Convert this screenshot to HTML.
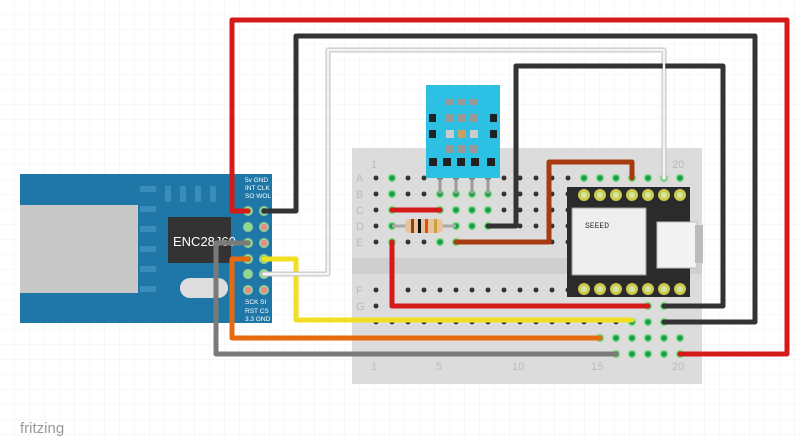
<!DOCTYPE html>
<html><head><style>
html,body{margin:0;padding:0;background:#fff;}
svg{display:block;}
</style></head><body>
<svg width="800" height="439" xmlns="http://www.w3.org/2000/svg" font-family="Liberation Sans, sans-serif">
<defs>
<pattern id="g" width="15" height="15" patternUnits="userSpaceOnUse"><path d="M15 0V15H0" fill="none" stroke="#f0f0f0" stroke-width="1"/></pattern>
<pattern id="h1" x="368" y="170" width="16" height="16" patternUnits="userSpaceOnUse"><circle cx="8" cy="8" r="2.5" fill="#333"/></pattern>
<pattern id="h2" x="368" y="282" width="16" height="16" patternUnits="userSpaceOnUse"><circle cx="8" cy="8" r="2.5" fill="#333"/></pattern>
<g id="gd"><circle r="3.5" fill="#1a9a4a" stroke="#8d8" stroke-width="1.5"/></g>
<g id="xpin"><circle r="6" fill="#cfc84a"/><circle r="3" fill="#cfe8a8"/></g>
</defs>
<rect width="800" height="439" fill="url(#g)"/>
<!-- breadboard -->
<rect x="352" y="148" width="350" height="236" fill="#dcdcdc"/>
<rect x="352" y="258" width="350" height="16" fill="#cfcfcf"/>
<rect x="368" y="170" width="320" height="80" fill="url(#h1)"/>
<rect x="368" y="282" width="320" height="80" fill="url(#h2)"/>
<g>
<use href="#gd" x="392" y="178"/><use href="#gd" x="584" y="178"/><use href="#gd" x="600" y="178"/><use href="#gd" x="616" y="178"/><use href="#gd" x="632" y="178"/><use href="#gd" x="648" y="178"/><use href="#gd" x="664" y="178"/><use href="#gd" x="680" y="178"/>
<use href="#gd" x="392" y="194"/><use href="#gd" x="440" y="194"/><use href="#gd" x="456" y="194"/><use href="#gd" x="472" y="194"/><use href="#gd" x="488" y="194"/>
<use href="#gd" x="392" y="210"/><use href="#gd" x="440" y="210"/><use href="#gd" x="456" y="210"/><use href="#gd" x="472" y="210"/><use href="#gd" x="488" y="210"/>
<use href="#gd" x="392" y="226"/><use href="#gd" x="456" y="226"/><use href="#gd" x="472" y="226"/><use href="#gd" x="488" y="226"/>
<use href="#gd" x="392" y="242"/><use href="#gd" x="440" y="242"/><use href="#gd" x="456" y="242"/>
<use href="#gd" x="648" y="306"/><use href="#gd" x="664" y="306"/>
<use href="#gd" x="632" y="322"/><use href="#gd" x="648" y="322"/><use href="#gd" x="664" y="322"/>
<use href="#gd" x="600" y="338"/><use href="#gd" x="616" y="338"/><use href="#gd" x="632" y="338"/><use href="#gd" x="648" y="338"/><use href="#gd" x="664" y="338"/><use href="#gd" x="680" y="338"/>
<use href="#gd" x="616" y="354"/><use href="#gd" x="632" y="354"/><use href="#gd" x="648" y="354"/><use href="#gd" x="664" y="354"/><use href="#gd" x="680" y="354"/>
</g>
<g fill="#bbb" font-size="11">
<text x="371" y="168">1</text><text x="672" y="168">20</text>
<text x="371" y="370">1</text><text x="436" y="370">5</text><text x="512" y="370">10</text><text x="591" y="370">15</text><text x="672" y="370">20</text>
<text x="356" y="182">A</text><text x="356" y="198">B</text><text x="356" y="214">C</text><text x="356" y="230">D</text><text x="356" y="246">E</text>
<text x="356" y="294">F</text><text x="356" y="310">G</text>
</g>
<!-- ENC board -->
<rect x="20" y="174" width="252" height="149" fill="#1f77a8"/>
<rect x="20" y="205" width="118" height="88" fill="#c8c8c8"/>
<g fill="#3a8cba"><rect x="140" y="186" width="16" height="6"/><rect x="140" y="206" width="16" height="6"/><rect x="140" y="226" width="16" height="6"/><rect x="140" y="246" width="16" height="6"/><rect x="140" y="266" width="16" height="6"/><rect x="140" y="286" width="16" height="6"/>
<rect x="165" y="186" width="6" height="16"/><rect x="180" y="186" width="6" height="16"/><rect x="195" y="186" width="6" height="16"/><rect x="210" y="186" width="6" height="16"/></g>
<rect x="168" y="217" width="63" height="46" fill="#333"/>
<text x="173" y="246" fill="#fff" font-size="13">ENC28J60</text>
<rect x="180" y="278" width="48" height="20" rx="10" fill="#ddd"/>
<g fill="#fff" font-size="6.5"><text x="245" y="182">5v GND</text><text x="245" y="190">INT CLK</text><text x="245" y="198">SO WOL</text>
<text x="245" y="304">SCK  SI</text><text x="245" y="313">RST  CS</text><text x="245" y="321">3.3  GND</text></g>
<g stroke="#9c9" stroke-width="2">
<circle cx="248" cy="211" r="4" fill="#7c4"/><circle cx="264" cy="211" r="4" fill="#1a5"/>
<circle cx="248" cy="227" r="4" fill="#8d8"/><circle cx="264" cy="227" r="4" fill="#e88"/>
<circle cx="248" cy="243" r="4" fill="#7c4"/><circle cx="264" cy="243" r="4" fill="#e88"/>
<circle cx="248" cy="259" r="4" fill="#7a3"/><circle cx="264" cy="259" r="4" fill="#7d2"/>
<circle cx="248" cy="274" r="4" fill="#8d8"/><circle cx="264" cy="274" r="4" fill="#8d8"/>
<circle cx="248" cy="290" r="4" fill="#e88"/><circle cx="264" cy="290" r="4" fill="#e88"/>
</g>
<!-- DHT -->
<g stroke="#999" stroke-width="3"><line x1="440" y1="170" x2="440" y2="194"/><line x1="456" y1="170" x2="456" y2="194"/><line x1="472" y1="170" x2="472" y2="194"/><line x1="488" y1="170" x2="488" y2="194"/></g>
<rect x="426" y="85" width="74" height="93" fill="#2bc0e4"/>
<g fill="#999"><rect x="446" y="99" width="8" height="6"/><rect x="458" y="99" width="8" height="6"/><rect x="470" y="99" width="8" height="6"/>
<rect x="446" y="114" width="8" height="8"/><rect x="458" y="114" width="8" height="8"/><rect x="470" y="114" width="8" height="8"/>
<rect x="446" y="130" width="8" height="8" fill="#ccc"/><rect x="458" y="130" width="8" height="8" fill="#c9a060"/><rect x="470" y="130" width="8" height="8" fill="#ccc"/>
<rect x="446" y="145" width="8" height="8"/><rect x="458" y="145" width="8" height="8"/><rect x="470" y="145" width="8" height="8"/></g>
<g fill="#222"><rect x="429" y="114" width="7" height="8"/><rect x="490" y="114" width="7" height="8"/><rect x="429" y="130" width="7" height="8"/><rect x="490" y="130" width="7" height="8"/>
<rect x="429" y="158" width="8" height="8"/><rect x="443" y="158" width="8" height="8"/><rect x="457" y="158" width="8" height="8"/><rect x="471" y="158" width="8" height="8"/><rect x="487" y="158" width="8" height="8"/></g>
<!-- XIAO -->
<rect x="567" y="187" width="123" height="110" fill="#2b2b2b"/>
<rect x="572" y="208" width="74" height="67" fill="#eee" stroke="#999"/>
<text x="585" y="228" font-family="Liberation Mono, monospace" font-size="8" fill="#333">SEEED</text>
<rect x="657" y="222" width="40" height="46" fill="#f3f3f3" stroke="#bbb"/>
<rect x="695" y="225" width="8" height="38" fill="#bbb"/>
<g>
<use href="#xpin" x="584" y="195"/><use href="#xpin" x="600" y="195"/><use href="#xpin" x="616" y="195"/><use href="#xpin" x="632" y="195"/><use href="#xpin" x="648" y="195"/><use href="#xpin" x="664" y="195"/><use href="#xpin" x="680" y="195"/>
<use href="#xpin" x="584" y="289"/><use href="#xpin" x="600" y="289"/><use href="#xpin" x="616" y="289"/><use href="#xpin" x="632" y="289"/><use href="#xpin" x="648" y="289"/><use href="#xpin" x="664" y="289"/><use href="#xpin" x="680" y="289"/>
</g>
<!-- resistor -->
<line x1="392" y1="226" x2="456" y2="226" stroke="#aaa" stroke-width="3"/>
<rect x="405" y="219" width="38" height="14" rx="5" fill="#e8c39a"/>
<rect x="411" y="219" width="3" height="14" fill="#8b4513"/><rect x="418" y="219" width="3" height="14" fill="#111"/><rect x="425" y="219" width="3" height="14" fill="#e0501a"/><rect x="434" y="219" width="3" height="14" fill="#c9a040"/>
<!-- wires -->
<g fill="none" stroke-width="5" stroke-linejoin="round" stroke-linecap="round">
<polyline stroke="#7a7a7a" points="248,243 216,243 216,354 616,354"/>
<polyline stroke="#e86a10" points="248,259 232,259 232,338 600,338"/>
<polyline stroke="#f0e020" points="264,259 296,259 296,320 632,320"/>
<polyline stroke="#c8c8c8" points="264,274 328,274 328,50 664,50 664,178"/>
<polyline stroke="#333" points="264,211 296,211 296,36 755,36 755,322 664,322"/>
<polyline stroke="#d61a1a" points="248,211 232,211 232,20 787,20 787,354 680,354"/>
<polyline stroke="#333" points="488,226 516,226 516,66 723,66 723,306 664,306"/>
<polyline stroke="#d61a1a" points="392,242 392,306 648,306"/>
<polyline stroke="#d61a1a" points="392,210 440,210"/>
<polyline stroke="#a83a10" points="456,242 549,242 549,162 632,162 632,178"/>
</g>
<polyline fill="none" stroke-width="2.5" stroke-linecap="round" stroke="#f4f4f4" points="264,274 328,274 328,50 664,50 664,178"/>
<text x="20" y="433" fill="#999" font-size="15">fritzing</text>
</svg>
</body></html>
